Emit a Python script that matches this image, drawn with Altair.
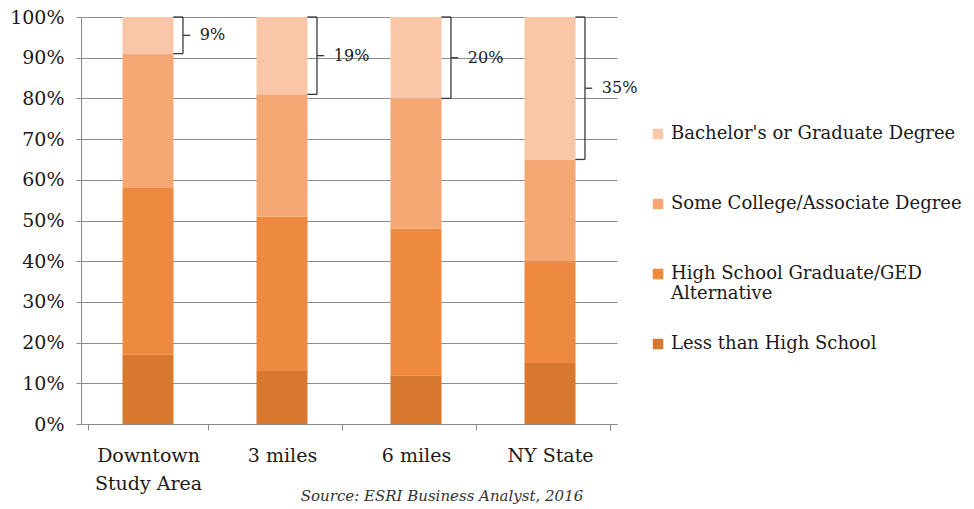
import altair as alt
import pandas as pd

# Educational attainment shares (%) by area
AREAS = ["Downtown Study Area", "3 miles", "6 miles", "NY State"]
LEVELS = [
    "Bachelor's or Graduate Degree",
    "Some College/Associate Degree",
    "High School Graduate/GED Alternative",
    "Less than High School",
]
COLORS = ["#F9C6A8", "#F5A774", "#EE8A3F", "#D8782F"]

LESS_THAN_HS = [17, 13, 12, 15]
HIGH_SCHOOL = [41, 38, 36, 25]
SOME_COLLEGE = [33, 30, 32, 25]
BACHELORS = [9, 19, 20, 35]

SOURCE = "Source: ESRI Business Analyst, 2016"
FONT = "DejaVu Serif"

# long table for the stacked bars; rank 0 sits at the bottom of each stack
series = {
    LEVELS[3]: LESS_THAN_HS,
    LEVELS[2]: HIGH_SCHOOL,
    LEVELS[1]: SOME_COLLEGE,
    LEVELS[0]: BACHELORS,
}
rows = []
for rank, (level, values) in enumerate(series.items()):
    for area, v in zip(AREAS, values):
        rows.append({"area": area, "level": level, "value": v, "rank": rank})
bars_df = pd.DataFrame(rows)

# brace annotations spanning the bachelor's share at the top of each bar
brace_df = pd.DataFrame({
    "area": AREAS,
    "top": [100] * len(AREAS),
    "bottom": [100 - b for b in BACHELORS],
    "mid": [100 - b / 2 for b in BACHELORS],
    "label": [f"{b}%" for b in BACHELORS],
})

wrap_area = "datum.label == 'Downtown Study Area' ? ['Downtown', 'Study Area'] : datum.label"
wrap_level = ("datum.label == 'High School Graduate/GED Alternative' ? "
              "['High School Graduate/GED', 'Alternative'] : datum.label")

x_axis = alt.Axis(
    tickBand="extent", grid=False, labelAngle=0, tickSize=6, labelPadding=16,
    labelExpr=wrap_area, labelLineHeight=28, labelFontSize=19,
)
y_axis = alt.Axis(
    values=list(range(0, 101, 10)), labelExpr="datum.value + '%'",
    tickSize=5, labelPadding=12, grid=True, labelFontSize=19,
)

bars = alt.Chart(bars_df).mark_bar(size=51).encode(
    x=alt.X("area:N", sort=AREAS, title=None, axis=x_axis),
    y=alt.Y("value:Q", stack="zero", title=None,
            scale=alt.Scale(domain=[0, 100], nice=False), axis=y_axis),
    color=alt.Color(
        "level:N", title=None,
        scale=alt.Scale(domain=LEVELS, range=COLORS),
        legend=alt.Legend(
            orient="none", legendX=568, legendY=108,
            symbolType="square", symbolSize=110, symbolStrokeWidth=0,
            labelFont=FONT, labelFontSize=18, labelColor="#1a1a1a",
            labelLimit=400, labelExpr=wrap_level,
            rowPadding=32, gridAlign="all",
        ),
    ),
    order=alt.Order("rank:Q"),
)

ARM_START, STEM, TICK_END, TEXT_POS = 0.71, 0.79, 0.85, 0.93
brace_color = "#3a3a3a"

stem = alt.Chart(brace_df).mark_rule(color=brace_color, strokeWidth=1.3).encode(
    x=alt.X("area:N", sort=AREAS, bandPosition=STEM, title=None),
    y=alt.Y("top:Q", title=None),
    y2="bottom:Q",
)
top_arm = alt.Chart(brace_df).mark_rule(color=brace_color, strokeWidth=1.3).encode(
    x=alt.X("area:N", sort=AREAS, bandPosition=ARM_START, title=None),
    x2=alt.X2("area:N", bandPosition=STEM),
    y=alt.Y("top:Q", title=None),
)
bottom_arm = alt.Chart(brace_df).mark_rule(color=brace_color, strokeWidth=1.3).encode(
    x=alt.X("area:N", sort=AREAS, bandPosition=ARM_START, title=None),
    x2=alt.X2("area:N", bandPosition=STEM),
    y=alt.Y("bottom:Q", title=None),
)
mid_tick = alt.Chart(brace_df).mark_rule(color=brace_color, strokeWidth=1.3).encode(
    x=alt.X("area:N", sort=AREAS, bandPosition=STEM, title=None),
    x2=alt.X2("area:N", bandPosition=TICK_END),
    y=alt.Y("mid:Q", title=None),
)
brace_text = alt.Chart(brace_df).mark_text(
    align="left", baseline="middle", font=FONT, fontSize=16, color="#1a1a1a",
).encode(
    x=alt.X("area:N", sort=AREAS, bandPosition=TEXT_POS, title=None),
    y=alt.Y("mid:Q", title=None),
    text="label:N",
)

chart = alt.layer(bars, stem, top_arm, bottom_arm, mid_tick, brace_text).properties(
    width=536,
    height=407,
    autosize=alt.AutoSizeParams(type="none"),
    padding={"left": 81, "top": 17, "right": 357, "bottom": 85},
    background="white",
    title=alt.TitleParams(
        SOURCE, orient="bottom", anchor="middle", dx=93, offset=-4,
        font=FONT, fontStyle="italic", fontWeight="normal", fontSize=15, color="#333333",
    ),
).configure_view(stroke=None).configure_axis(
    domainColor="#8a8a8a", gridColor="#8c8c8c", tickColor="#8a8a8a",
    labelFont=FONT, labelColor="#1a1a1a", domainWidth=1, gridWidth=1,
)

chart.save("out.html", embed_options={"renderer": "svg", "actions": False})
